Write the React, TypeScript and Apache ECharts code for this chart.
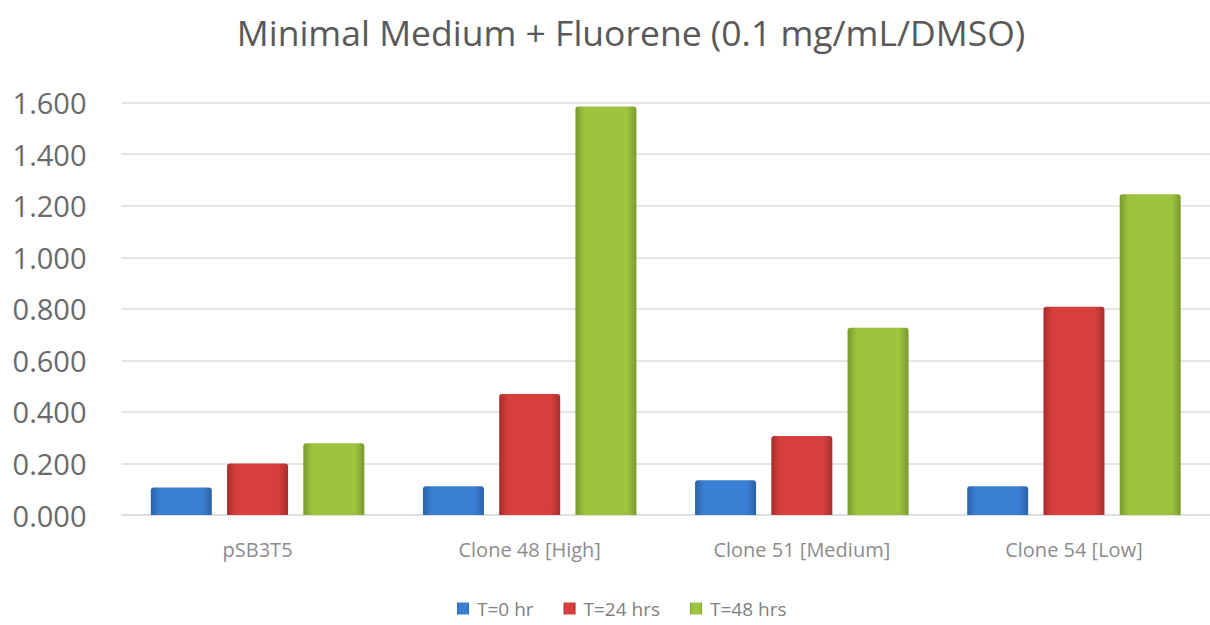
import React, { useEffect, useRef } from "react";
import * as echarts from "echarts";

const categories = ["pSB3T5", "Clone 48 [High]", "Clone 51 [Medium]", "Clone 54 [Low]"];
const seriesNames = ["T=0 hr", "T=24 hrs", "T=48 hrs"];
const t0 = [0.107, 0.112, 0.135, 0.112];
const t24 = [0.2, 0.47, 0.307, 0.808];
const t48 = [0.278, 1.585, 0.727, 1.245];
const yTicks = { min: 0, max: 1.6, interval: 0.2 };

const FONT = "'Open Sans', 'Noto Sans', sans-serif";

function barGradient(edge: string, mid: string) {
  return new echarts.graphic.LinearGradient(0, 0, 1, 0, [
    { offset: 0, color: edge },
    { offset: 0.15, color: mid },
    { offset: 0.85, color: mid },
    { offset: 1, color: edge },
  ]);
}

export default function App() {
  const ref = useRef<HTMLDivElement>(null);
  useEffect(() => {
    if (!ref.current) return;
    const chart = echarts.init(ref.current, undefined, { renderer: "svg" });
    const colors = [
      { edge: "#2a62a8", mid: "#3a80d2", legend: "#3a80d2" },
      { edge: "#a82e2c", mid: "#d63f3c", legend: "#d63f3c" },
      { edge: "#789a2c", mid: "#9cc43f", legend: "#9cc43f" },
    ];
    const data = [t0, t24, t48];
    chart.setOption({
      animation: false,
      backgroundColor: "#ffffff",
      color: colors.map((c) => c.legend),
      title: {
        text: "Minimal Medium + Fluorene (0.1 mg/mL/DMSO)",
        left: 626,
        textAlign: "center",
        top: 9,
        textStyle: { fontFamily: FONT, fontSize: 35.5, fontWeight: "normal", color: "#595959" },
      },
      legend: {
        top: 594,
        left: 452,
        icon: "rect",
        itemWidth: 12,
        itemHeight: 12,
        itemGap: 30,
        textStyle: { fontFamily: FONT, fontSize: 19, color: "#808080", padding: [0, 0, 0, 3] },
        data: seriesNames,
      },
      grid: { left: 121.5, top: 102.7, width: 1097, height: 412.3, containLabel: false },
      xAxis: {
        type: "category",
        data: categories,
        axisTick: { show: false },
        axisLine: { show: true, lineStyle: { color: "#dcdcdc", width: 1.5 } },
        axisLabel: { fontFamily: FONT, fontSize: 20, color: "#8c8c8c", margin: 24 },
      },
      yAxis: {
        type: "value",
        min: yTicks.min,
        max: yTicks.max,
        interval: yTicks.interval,
        axisLine: { show: false },
        axisTick: { show: false },
        splitLine: { lineStyle: { color: "#dcdcdc", width: 1.5 } },
        axisLabel: {
          fontFamily: FONT,
          fontSize: 29,
          color: "#6a6a6a",
          margin: 35,
          formatter: (v: number) => v.toFixed(3),
        },
      },
      series: seriesNames.map((name, i) => ({
        name,
        type: "bar",
        data: data[i],
        barWidth: 61,
        barGap: "25%",
        itemStyle: {
          color: barGradient(colors[i].edge, colors[i].mid),
          borderRadius: [3, 3, 0, 0],
        },
      })),
    });
    return () => chart.dispose();
  }, []);
  return (
    <div
      ref={ref}
      style={{ position: "absolute", left: 0, top: 0, width: 1210, height: 625 }}
    />
  );
}
